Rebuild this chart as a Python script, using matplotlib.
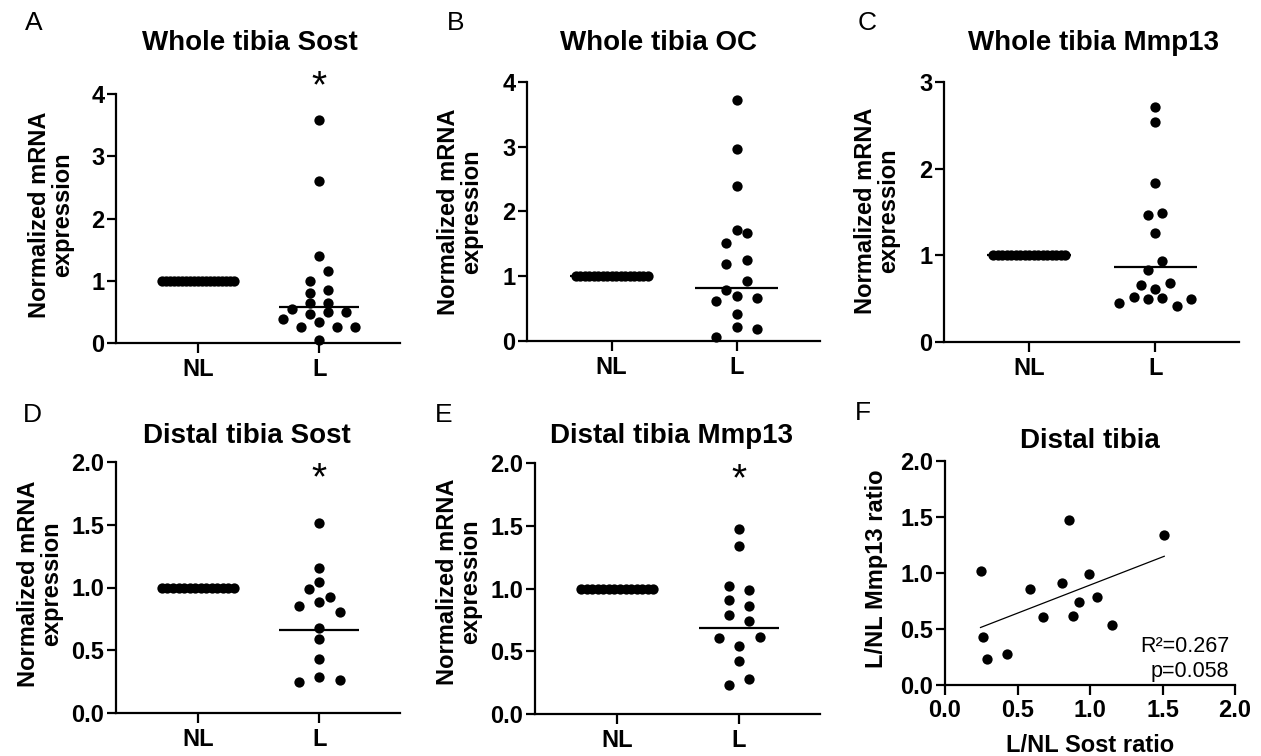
import numpy as np
import matplotlib
matplotlib.use("Agg")
import matplotlib.pyplot as plt

plt.rcParams['font.family'] = ['Liberation Sans', 'DejaVu Sans']

# ---------------- data ----------------
groups = ['NL', 'L']

# whole tibia, loaded (L) limb; NL limb is the normalisation reference (= 1)
whole_sost_NL = [1, 1, 1, 1, 1, 1, 1, 1, 1, 1, 1, 1, 1, 1, 1, 1, 1, 1, 1]
whole_sost_L = [0.05, 0.38, 0.25, 0.34, 0.25, 0.25, 0.55, 0.46, 0.49, 0.49,
                0.64, 0.65, 0.81, 0.85, 1.00, 1.16, 1.40, 2.60, 3.58]
whole_oc_NL = [1, 1, 1, 1, 1, 1, 1, 1, 1, 1, 1, 1, 1, 1, 1, 1, 1]
whole_oc_L = [0.06, 0.21, 0.185, 0.41, 0.62, 0.70, 0.67, 0.79, 0.93, 1.19,
              1.25, 1.52, 1.67, 1.72, 2.40, 2.96, 3.72]
whole_mmp13_NL = [1, 1, 1, 1, 1, 1, 1, 1, 1, 1, 1, 1, 1, 1, 1, 1, 1]
whole_mmp13_L = [0.45, 0.52, 0.50, 0.51, 0.41, 0.50, 0.66, 0.615, 0.685, 0.835,
                 0.94, 1.26, 1.47, 1.49, 1.83, 2.54, 2.71]

# distal tibia, paired per animal (panel F plots one against the other)
distal_NL = [1, 1, 1, 1, 1, 1, 1, 1, 1, 1, 1, 1, 1, 1]
distal_sost_L = [0.245, 0.287, 0.262, 0.430, 0.675, 1.155, 0.856, 0.883, 0.808,
                 0.587, 0.990, 1.045, 0.922, 1.512]
distal_mmp13_L = [1.017, 0.235, 0.425, 0.278, 0.608, 0.540, 1.474, 0.615, 0.912,
                  0.857, 0.990, 0.789, 0.740, 1.335]

fit_text = ['R\u00b2=0.267', 'p=0.058']

# ---------------- layout ----------------
W, H = 1261, 756
fig = plt.figure(figsize=(W / 100, H / 100), dpi=100)

TICK_FS = 17


def px_axes(l, r, t, b):
    return fig.add_axes([l / W, 1 - b / H, (r - l) / W, (b - t) / H])


def ftext(x, y, s, **kw):
    fig.text(x / W, 1 - y / H, s, **kw)


def style(ax):
    for side in ('top', 'right'):
        ax.spines[side].set_visible(False)
    for side in ('left', 'bottom'):
        ax.spines[side].set_linewidth(1.6)
    ax.tick_params(axis='y', length=6.3, width=1.6, pad=2, labelsize=TICK_FS)
    ax.tick_params(axis='x', length=7, width=1.6, pad=4, labelsize=TICK_FS)


def swarm_x(ax, x0, vals, step=20.5, row_h=10, width=72):
    # Prism-like column scatter: close values share a row, spread symmetrically
    vals = np.asarray(vals, float)
    ppx = ax.bbox.width / np.ptp(ax.get_xlim())
    ppy = ax.bbox.height / np.ptp(ax.get_ylim())
    off = np.zeros(len(vals))
    if np.ptp(vals) == 0:
        off = np.linspace(-width / 2, width / 2, len(vals))
    else:
        rows = []
        for i in np.argsort(vals, kind='stable'):
            if rows and (vals[i] - vals[rows[-1][0]]) * ppy <= row_h:
                rows[-1].append(i)
            else:
                rows.append([i])
        for row in rows:
            for k, i in enumerate(sorted(row)):
                off[i] = (k - (len(row) - 1) / 2) * step
        if np.ptp(off) > width:
            off *= width / np.ptp(off)
    return x0 + off / ppx


def column_plot(box, nl, l, ymax, yticks, fmt, star_y=None):
    ax = px_axes(*box)
    ax.set_xlim(-0.675, 1.665)
    ax.set_ylim(0, ymax)
    for xi, vals in enumerate([nl, l]):
        vals = np.asarray(vals, float)
        xs = swarm_x(ax, xi, vals)
        gm = np.exp(np.mean(np.log(vals)))
        ax.plot([xi - 0.33, xi + 0.33], [gm, gm], color='black', lw=1.6,
                solid_capstyle='butt', zorder=2)
        ax.scatter(xs, vals, s=55, color='black', linewidths=0, zorder=3,
                   clip_on=False)
    ax.set_xticks([0, 1], groups, fontweight='bold')
    ax.set_yticks(yticks, [fmt.format(v) for v in yticks], fontweight='bold')
    style(ax)
    if star_y is not None:
        ax.text(1, star_y, '*', ha='center', va='baseline', fontsize=28,
                clip_on=False)
    return ax


ylab = 'Normalized mRNA\nexpression'
lab_kw = dict(rotation=90, ha='center', va='center', fontsize=17,
              fontweight='bold', linespacing=1.05, multialignment='center')
title_kw = dict(ha='center', va='baseline', fontsize=20, fontweight='bold')
letter_kw = dict(ha='left', va='baseline', fontsize=19)

# A
column_plot((116, 400, 94, 343), whole_sost_NL, whole_sost_L, 4,
            [0, 1, 2, 3, 4], '{:.0f}', star_y=3.95)
ftext(250, 50, 'Whole tibia Sost', **title_kw)
ftext(51, 215, ylab, **lab_kw)
ftext(25, 30, 'A', **letter_kw)

# B
column_plot((527, 820, 82, 341), whole_oc_NL, whole_oc_L, 4,
            [0, 1, 2, 3, 4], '{:.0f}')
ftext(659, 50, 'Whole tibia OC', **title_kw)
ftext(460, 212, ylab, **lab_kw)
ftext(447, 30, 'B', **letter_kw)

# C
column_plot((944, 1239, 82, 342), whole_mmp13_NL, whole_mmp13_L, 3,
            [0, 1, 2, 3], '{:.0f}')
ftext(1094, 50, 'Whole tibia Mmp13', **title_kw)
ftext(877, 211, ylab, **lab_kw)
ftext(858, 30, 'C', **letter_kw)

# D
column_plot((116, 400, 462, 713), distal_NL, distal_sost_L, 2,
            [0, 0.5, 1, 1.5, 2], '{:.1f}', star_y=1.78)
ftext(247, 443, 'Distal tibia Sost', **title_kw)
ftext(40, 584, ylab, **lab_kw)
ftext(23, 422, 'D', **letter_kw)

# E
column_plot((535, 820, 463, 714), distal_NL, distal_mmp13_L, 2,
            [0, 0.5, 1, 1.5, 2], '{:.1f}', star_y=1.78)
ftext(672, 443, 'Distal tibia Mmp13', **title_kw)
ftext(459, 582, ylab, **lab_kw)
ftext(435, 422, 'E', **letter_kw)

# F: correlation of the distal ratios
ax = px_axes(945, 1235, 461, 685)
xs = np.asarray(distal_sost_L)
ys = np.asarray(distal_mmp13_L)
ax.scatter(xs, ys, s=55, color='black', linewidths=0, zorder=3, clip_on=False)
slope, icpt = np.polyfit(xs, ys, 1)
xx = np.array([xs.min(), xs.max()])
ax.plot(xx, slope * xx + icpt, color='black', lw=0.9)
ax.set_xlim(0, 2)
ax.set_ylim(0, 2)
ticks = [0, 0.5, 1, 1.5, 2]
ax.set_xticks(ticks, ['{:.1f}'.format(v) for v in ticks], fontweight='bold')
ax.set_yticks(ticks, ['{:.1f}'.format(v) for v in ticks], fontweight='bold')
style(ax)
ax.tick_params(axis='x', pad=3)
ftext(1229, 652, fit_text[0], ha='right', va='baseline', fontsize=15.5)
ftext(1229, 677, fit_text[1], ha='right', va='baseline', fontsize=15.5)
ftext(1090, 448, 'Distal tibia', **title_kw)
ftext(1090, 752, 'L/NL Sost ratio', ha='center', va='baseline', fontsize=17,
      fontweight='bold')
ftext(877, 569, 'L/NL Mmp13 ratio', rotation=90, ha='center', va='center',
      fontsize=17, fontweight='bold')
ftext(855, 420, 'F', **letter_kw)

fig.savefig('out.png', dpi=100)
